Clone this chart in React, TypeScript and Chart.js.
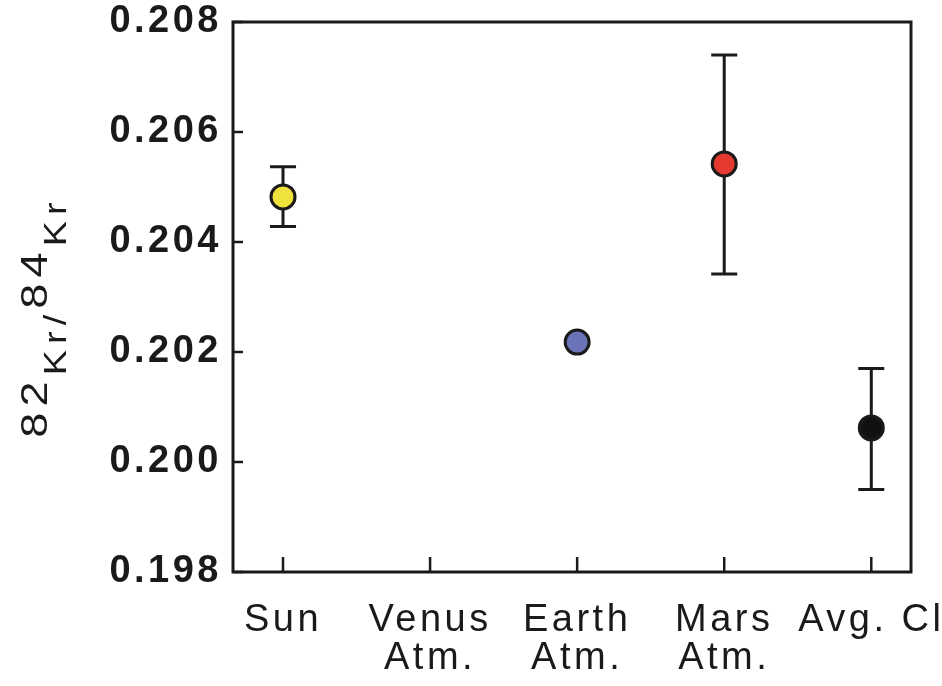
import React, { useEffect, useRef } from "react";
import { Chart, registerables } from "chart.js";

Chart.register(...registerables);

const categories: string[][] = [["Sun"], ["Venus", "Atm."], ["Earth", "Atm."], ["Mars", "Atm."], ["Avg. Cl"]];
const ratios: (number | null)[] = [0.20482, null, 0.20218, 0.20542, 0.20062];
const errHigh: (number | null)[] = [0.20537, null, null, 0.2074, 0.2017];
const errLow: (number | null)[] = [0.20428, null, null, 0.20342, 0.1995];
const pointColors: string[] = ["#f0e23c", "#ffffff", "#6a72b8", "#e63a30", "#111111"];
const yTicks: number[] = [0.198, 0.2, 0.202, 0.204, 0.206, 0.208];

const INK = "#1a1a1a";
const FAMILY = "'Liberation Sans', Arial, sans-serif";

const boxPlugin = {
  id: "boxAndTicks",
  beforeDraw(chart: any) {
    chart.ctx.letterSpacing = "3.5px";
  },
  beforeDatasetsDraw(chart: any) {
    const { ctx, chartArea: a, scales } = chart;
    const xs = scales.x;
    const ys = scales.y;
    ctx.save();
    ctx.letterSpacing = "0px";
    ctx.strokeStyle = INK;
    ctx.lineWidth = 3;
    ctx.strokeRect(a.left, a.top, a.right - a.left, a.bottom - a.top);
    ctx.lineWidth = 2.5;
    categories.forEach((_, i) => {
      const px = xs.getPixelForValue(i);
      ctx.beginPath();
      ctx.moveTo(px, a.bottom);
      ctx.lineTo(px, a.bottom - 15);
      ctx.stroke();
    });
    yTicks.forEach((v) => {
      const py = ys.getPixelForValue(v);
      ctx.beginPath();
      ctx.moveTo(a.left, py);
      ctx.lineTo(a.left + 10, py);
      ctx.stroke();
    });
    ctx.lineWidth = 3;
    ratios.forEach((v, i) => {
      const hi = errHigh[i];
      const lo = errLow[i];
      if (v === null || hi === null || lo === null) return;
      const px = xs.getPixelForValue(i);
      const pHi = ys.getPixelForValue(hi);
      const pLo = ys.getPixelForValue(lo);
      ctx.beginPath();
      ctx.moveTo(px, pHi);
      ctx.lineTo(px, pLo);
      ctx.moveTo(px - 13, pHi);
      ctx.lineTo(px + 13, pHi);
      ctx.moveTo(px - 13, pLo);
      ctx.lineTo(px + 13, pLo);
      ctx.stroke();
    });
    ctx.restore();
  },
  afterDraw(chart: any) {
    const { ctx } = chart;
    ctx.save();
    ctx.letterSpacing = "5px";
    ctx.fillStyle = INK;
    ctx.translate(66, 317);
    ctx.rotate(-Math.PI / 2);
    ctx.scale(1.22, 1);
    const parts: [string, boolean][] = [["82", true], ["Kr/", false], ["84", true], ["Kr", false]];
    const big = `31px ${FAMILY}`;
    const sup = `37px ${FAMILY}`;
    let total = 0;
    const widths = parts.map(([t, s]) => {
      ctx.font = s ? sup : big;
      const w = ctx.measureText(t).width;
      total += w;
      return w;
    });
    let x = -total / 2;
    ctx.textBaseline = "alphabetic";
    parts.forEach(([t, s], i) => {
      ctx.font = s ? sup : big;
      ctx.fillText(t, x, s ? -19 : 0);
      x += widths[i];
    });
    ctx.restore();
  },
};

export default function App() {
  const ref = useRef<HTMLCanvasElement | null>(null);
  useEffect(() => {
    if (!ref.current) return;
    const pts: { x: number; y: number }[] = [];
    const cols: string[] = [];
    ratios.forEach((v, i) => {
      if (v !== null) {
        pts.push({ x: i, y: v });
        cols.push(pointColors[i]);
      }
    });
    const chart = new Chart(ref.current, {
      type: "scatter",
      data: {
        datasets: [
          {
            data: pts,
            pointRadius: 12,
            pointHoverRadius: 12,
            pointBackgroundColor: cols,
            pointBorderColor: INK,
            pointBorderWidth: 3,
          },
        ],
      },
      options: {
        animation: false,
        responsive: false,
        events: [],
        layout: { padding: { left: 0, top: 22, right: 31, bottom: 0 } },
        plugins: { legend: { display: false }, tooltip: { enabled: false } },
        scales: {
          x: {
            type: "linear",
            min: -0.34,
            max: 4.27,
            grid: { display: false, drawTicks: false },
            border: { display: false },
            afterBuildTicks: (s: any) => {
              s.ticks = categories.map((_, i) => ({ value: i }));
            },
            afterFit: (s: any) => {
              s.height = 114;
              s.paddingLeft = 0;
              s.paddingRight = 0;
            },
            ticks: {
              autoSkip: false,
              maxRotation: 0,
              minRotation: 0,
              padding: 30,
              color: INK,
              font: { family: FAMILY, size: 38, lineHeight: 1.0 },
              callback: (v: any) => categories[Math.round(Number(v))] || "",
            },
          },
          y: {
            min: 0.198,
            max: 0.208,
            grid: { display: false, drawTicks: false },
            border: { display: false },
            afterBuildTicks: (s: any) => {
              s.ticks = yTicks.map((v) => ({ value: v }));
            },
            afterFit: (s: any) => {
              s.width = 233;
              s.paddingTop = 0;
              s.paddingBottom = 0;
            },
            ticks: {
              padding: 11,
              color: INK,
              font: { family: FAMILY, size: 38, weight: "bold" },
              callback: (v: any) => Number(v).toFixed(3),
            },
          },
        },
      },
      plugins: [boxPlugin],
    });
    return () => chart.destroy();
  }, []);
  return (
    <div style={{ position: "fixed", left: 0, top: 0, width: 942, height: 686, background: "#fff" }}>
      <canvas ref={ref} width={942} height={686} style={{ display: "block", width: 942, height: 686 }} />
    </div>
  );
}
